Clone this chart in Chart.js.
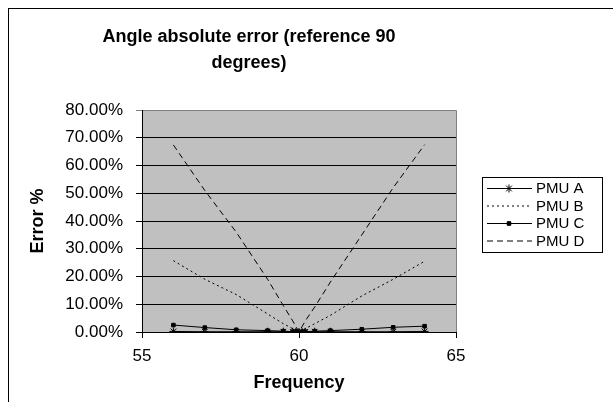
<!DOCTYPE html>
<html>
<head>
<meta charset="utf-8">
<script src="https://cdn.jsdelivr.net/npm/chart.js@4/dist/chart.umd.min.js"></script>
<style>
  html, body { margin: 0; padding: 0; background: #fff; }
  #wrap { width: 613px; height: 402px; }
</style>
</head>
<body>
<div id="wrap"><canvas id="chart" width="613" height="402"></canvas></div>
<script>
  // data
  var frequency = [56, 57, 58, 59, 59.5, 59.8, 59.9, 60, 60.1, 60.2, 60.5, 61, 62, 63, 64];
  var pmuA = [0.002, 0.001, 0.001, 0.001, 0.001, 0.0005, 0.0003, 0, 0.0003, 0.0005, 0.001, 0.001, 0.001, 0.001, 0.002];
  var pmuB = [0.257, 0.19, 0.135, 0.065, 0.03, 0.012, 0.006, 0, 0.006, 0.012, 0.03, 0.06, 0.13, 0.19, 0.255];
  var pmuC = [0.025, 0.016, 0.008, 0.005, 0.003, 0.001, 0.0005, 0, 0.0005, 0.001, 0.003, 0.005, 0.01, 0.017, 0.021];
  var pmuD = [0.674, 0.51, 0.36, 0.19, 0.095, 0.04, 0.02, 0, 0.02, 0.04, 0.09, 0.18, 0.35, 0.52, 0.675];
  var seriesNames = ["PMU A", "PMU B", "PMU C", "PMU D"];
  var titleLines = ["Angle absolute error (reference 90", "degrees)"];

  var FONT = "'Liberation Sans', Arial, sans-serif";

  function points(ys) {
    return frequency.map(function (x, i) { return { x: x, y: ys[i] }; });
  }

  var styles = [
    { dash: [], marker: "star", radius: 4 },
    { dash: [2, 3], marker: false, radius: 0 },
    { dash: [], marker: "rect", radius: 2.5 },
    { dash: [6, 4], marker: false, radius: 0 }
  ];

  var datasets = [pmuA, pmuB, pmuC, pmuD].map(function (ys, i) {
    var s = styles[i];
    return {
      label: seriesNames[i],
      data: points(ys),
      borderColor: "#000",
      backgroundColor: "#000",
      borderWidth: 1,
      borderDash: s.dash,
      pointStyle: s.marker,
      pointRadius: s.radius,
      pointBorderWidth: 1,
      tension: 0
    };
  });

  // gray plot area, outer frame, title, legend box
  var excelLook = {
    id: "excelLook",
    beforeDraw: function (chart) {
      var ctx = chart.ctx, a = chart.chartArea;
      ctx.save();
      ctx.fillStyle = "#fff";
      ctx.fillRect(0, 0, chart.width, chart.height);
      ctx.strokeStyle = "#000";
      ctx.lineWidth = 1;
      ctx.strokeRect(8.5, 8.5, chart.width + 20, chart.height + 20);
      ctx.fillStyle = "#c0c0c0";
      ctx.fillRect(a.left, a.top, a.right - a.left, a.bottom - a.top);
      ctx.strokeStyle = "#808080";
      ctx.beginPath();
      ctx.moveTo(a.left, a.top + 0.5);
      ctx.lineTo(a.right + 0.5, a.top + 0.5);
      ctx.lineTo(a.right + 0.5, a.bottom);
      ctx.stroke();
      ctx.restore();
    },
    afterDraw: function (chart) {
      var ctx = chart.ctx;
      ctx.save();
      ctx.fillStyle = "#000";
      ctx.textAlign = "center";
      ctx.textBaseline = "alphabetic";
      ctx.font = "bold 18px " + FONT;
      ctx.fillText(titleLines[0], 249, 42);
      ctx.fillText(titleLines[1], 249, 68);

      // legend
      var bx = 482, by = 177, bw = 120, bh = 75;
      ctx.fillStyle = "#fff";
      ctx.fillRect(bx, by, bw, bh);
      ctx.strokeStyle = "#000";
      ctx.lineWidth = 1;
      ctx.strokeRect(bx + 0.5, by + 0.5, bw, bh);
      ctx.font = "15px " + FONT;
      ctx.textAlign = "left";
      ctx.textBaseline = "middle";
      for (var i = 0; i < seriesNames.length; i++) {
        var y = by + 11 + i * 17.5;
        var s = styles[i];
        ctx.strokeStyle = "#000";
        ctx.setLineDash(s.dash);
        ctx.beginPath();
        ctx.moveTo(bx + 5, y + 0.5);
        ctx.lineTo(bx + 50, y + 0.5);
        ctx.stroke();
        ctx.setLineDash([]);
        if (s.marker) {
          Chart.helpers.drawPoint(ctx, {
            pointStyle: s.marker, radius: s.radius, rotation: 0, borderWidth: 1
          }, bx + 27, y + 0.5);
          ctx.fill();
        }
        ctx.fillStyle = "#000";
        ctx.fillText(seriesNames[i], bx + 54, y + 1);
      }
      ctx.restore();
    }
  };

  new Chart(document.getElementById("chart").getContext("2d"), {
    type: "line",
    data: { datasets: datasets },
    plugins: [excelLook],
    options: {
      responsive: false,
      animation: false,
      layout: { padding: { left: 8, top: 110, right: 157, bottom: 0 } },
      plugins: {
        legend: { display: false },
        title: { display: false },
        tooltip: { enabled: false }
      },
      scales: {
        x: {
          type: "linear",
          min: 55,
          max: 65,
          afterFit: function (scale) { scale.height = 70; },
          ticks: {
            stepSize: 5,
            color: "#000",
            padding: 8,
            font: { family: FONT, size: 17 }
          },
          grid: { display: true, drawOnChartArea: false, color: "#000", tickLength: 6 },
          border: { color: "#000" },
          title: {
            display: true,
            text: "Frequency",
            color: "#000",
            padding: { top: 0, bottom: 8 },
            font: { family: FONT, size: 18, weight: "bold" }
          }
        },
        y: {
          min: 0,
          max: 0.8,
          afterFit: function (scale) { scale.width = 134; },
          ticks: {
            stepSize: 0.1,
            color: "#000",
            padding: 13,
            font: { family: FONT, size: 17 },
            callback: function (v) { return (v * 100).toFixed(2) + "%"; }
          },
          grid: {
            color: function (c) { return c.tick && c.tick.value >= 0.79 ? "#808080" : "#000"; },
            tickLength: 6
          },
          border: { color: "#000" },
          title: {
            display: true,
            text: "Error %",
            color: "#000",
            padding: { top: 19, bottom: 0 },
            font: { family: FONT, size: 18, weight: "bold" }
          }
        }
      }
    }
  });
</script>
</body>
</html>
